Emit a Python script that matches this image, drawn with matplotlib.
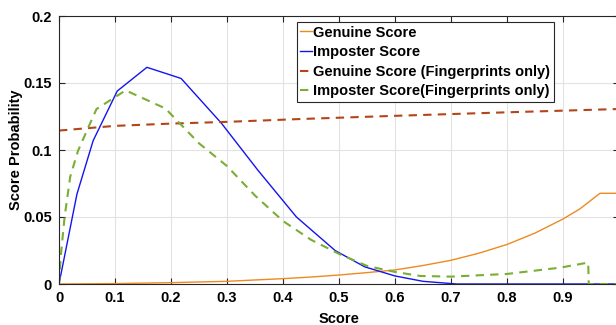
import numpy as np
import matplotlib.pyplot as plt

plt.rcParams['font.family'] = ['Liberation Sans', 'DejaVu Sans']
plt.rcParams['font.weight'] = 'bold'

# ==========================================
# Data
# ==========================================
gen_x = [0, 0.1, 0.2, 0.3, 0.4, 0.45, 0.5, 0.55, 0.6, 0.65, 0.7, 0.75,
         0.8, 0.85, 0.9, 0.93, 0.966, 1.0]
gen_y = [0, 0.0003, 0.001, 0.002, 0.004, 0.0052, 0.0067, 0.0085, 0.0105,
         0.0138, 0.0177, 0.023, 0.0295, 0.038, 0.0485, 0.056, 0.0677, 0.0677]

imp_x = [0, 0.032, 0.061, 0.104, 0.157, 0.218, 0.29, 0.355, 0.424, 0.493,
         0.546, 0.6, 0.65, 0.71, 1.0]
imp_y = [0, 0.067, 0.107, 0.144, 0.1617, 0.1534, 0.12, 0.085, 0.05, 0.025,
         0.0128, 0.006, 0.002, 0, 0]

gen_fp_x = [0, 0.1, 0.2, 0.3, 0.43, 0.6, 0.79, 1.0]
gen_fp_y = [0.1145, 0.118, 0.1197, 0.121, 0.1231, 0.1255, 0.128, 0.1306]

imp_fp_x = [0, 0.003, 0.01, 0.02, 0.034, 0.067, 0.119, 0.19, 0.25, 0.3,
            0.35, 0.4, 0.45, 0.5, 0.55, 0.6, 0.645, 0.7, 0.8, 0.895, 0.945,
            0.946, 1.0]
imp_fp_y = [0, 0.02, 0.05, 0.08, 0.0995, 0.1306, 0.1445, 0.131, 0.105, 0.088,
            0.066, 0.047, 0.033, 0.0225, 0.0135, 0.009, 0.006, 0.0055, 0.0075,
            0.0122, 0.016, 0, 0]

xticks = np.arange(0, 1.01, 0.1)
yticks = [0, 0.05, 0.1, 0.15, 0.2]
ytick_labels = ['0', '0.05', '0.1', '0.15', '0.2']
xtick_labels = ['0'] + [f'{v:.1f}' for v in xticks[1:-1]] + ['1']

# ==========================================
# Plot
# ==========================================
fig = plt.figure(figsize=(6.16, 3.25), dpi=100)
ax = fig.add_axes([59 / 616, 1 - 284 / 325, 560 / 616, 268 / 325])

ax.plot(gen_x, gen_y, color='#EE8A1E', lw=1, label='Genuine Score')
ax.plot(imp_x, imp_y, color='#1414F0', lw=1, label='Imposter Score')
ax.plot(gen_fp_x, gen_fp_y, color='#B4441A', lw=1.5, ls=(0, (4, 3)),
        label='Genuine Score (Fingerprints only)')
ax.plot(imp_fp_x, imp_fp_y, color='#7AAE34', lw=1.5, ls=(0, (4, 3)),
        label='Imposter Score(Fingerprints only)')

ax.set_xlim(0, 1)
ax.set_ylim(0, 0.2)
ax.set_xticks(xticks)
ax.set_xticklabels(xtick_labels)
ax.set_yticks(yticks)
ax.set_yticklabels(ytick_labels)
ax.grid(True, color='#E3E3E3', lw=0.8)
ax.set_axisbelow(True)
ax.tick_params(direction='in', top=True, right=True, length=4,
               labelsize=10.5, color='#262626', pad=5)
for s in ax.spines.values():
    s.set_color('#262626')
    s.set_linewidth(0.8)

ax.set_xlabel('Score', fontsize=10.5, fontweight='bold', labelpad=5)
ax.set_ylabel('Score Probability', fontsize=10.5, fontweight='bold', labelpad=0)

leg = ax.legend(loc='upper right', bbox_to_anchor=((554 - 59) / 560, 0.978),
                fontsize=10.5, handlelength=0.8, handletextpad=0.1,
                borderpad=0.25, labelspacing=0.38, fancybox=False,
                framealpha=1, borderaxespad=0)
leg.get_frame().set_edgecolor('#262626')
leg.get_frame().set_linewidth(0.8)

fig.savefig('out.png', dpi=100)
